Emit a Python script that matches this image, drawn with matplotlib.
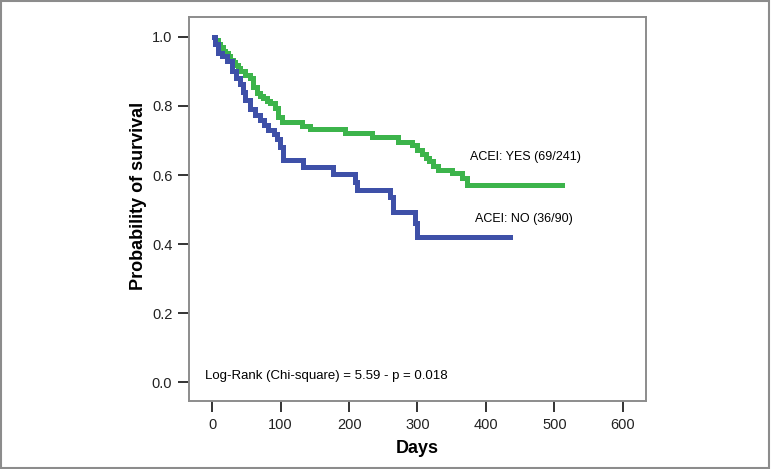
import numpy as np
import matplotlib.pyplot as plt
from matplotlib.patches import Rectangle

plt.rcParams['font.family'] = ['Liberation Sans', 'DejaVu Sans']

# --------------------------------------------------
# Kaplan-Meier steps
# --------------------------------------------------
days_yes = [3, 4, 8, 12, 16, 19, 23, 26, 30, 34, 38, 41, 48, 55, 60, 66, 70, 74,
            80, 85, 92, 96, 102, 131, 143, 194, 233, 272, 292, 299, 306, 312,
            317, 323, 330, 350, 365, 372, 511]
surv_yes = [1.0, 0.99, 0.98, 0.97, 0.96, 0.953, 0.945, 0.933, 0.928, 0.92, 0.91,
            0.9, 0.89, 0.88, 0.855, 0.838, 0.83, 0.823, 0.815, 0.81, 0.794,
            0.768, 0.754, 0.742, 0.733, 0.722, 0.71, 0.697, 0.687, 0.672, 0.66,
            0.65, 0.64, 0.627, 0.614, 0.605, 0.59, 0.571, 0.571]

days_no = [3, 4, 9, 15, 22, 29, 35, 41, 45, 48, 55, 62, 70, 76, 82, 90, 95, 99,
           104, 133, 177, 209, 212, 260, 264, 296, 300, 435]
surv_no = [1.0, 0.98, 0.953, 0.945, 0.93, 0.9, 0.88, 0.865, 0.84, 0.817, 0.79,
           0.775, 0.76, 0.745, 0.73, 0.72, 0.705, 0.68, 0.643, 0.623, 0.602,
           0.58, 0.556, 0.537, 0.493, 0.46, 0.42, 0.42]

label_yes = "ACEI: YES (69/241)"
label_no = "ACEI: NO (36/90)"
stats_text = "Log-Rank (Chi-square) = 5.59 - p = 0.018"

x_ticks = [0, 100, 200, 300, 400, 500, 600]
y_ticks = [0.0, 0.2, 0.4, 0.6, 0.8, 1.0]

# --------------------------------------------------
# Plot
# --------------------------------------------------
fig = plt.figure(figsize=(7.71, 4.69), dpi=100)
ax = fig.add_axes([0.2451, 0.145, 0.5928, 0.8188])

ax.plot(days_yes, surv_yes, drawstyle="steps-post", color="#3cb44b", lw=3.6,
        solid_joinstyle="miter")
ax.plot(days_no, surv_no, drawstyle="steps-post", color="#3e50a8", lw=3.6,
        solid_joinstyle="miter")

ax.text(377, 0.652, label_yes, fontsize=9, va="center", ha="left")
ax.text(384, 0.472, label_no, fontsize=9, va="center", ha="left")
ax.text(-10, 0.017, stats_text, fontsize=9.5, va="center", ha="left")

ax.set_xlim(-34, 634)
ax.set_ylim(-0.055, 1.058)
ax.set_xticks(x_ticks)
ax.set_yticks(y_ticks)
ax.set_yticklabels([f"{v:.1f}" for v in y_ticks])

for s in ax.spines.values():
    s.set_color("#8c8c8c")
    s.set_linewidth(1.4)
ax.tick_params(direction="out", length=8, width=1.4, color="#333333",
               labelsize=10.5, labelcolor="#222222", pad=4)

ax.set_xlabel("Days", fontsize=13, fontweight="bold", labelpad=6)
ax.set_ylabel("Probability of survival", fontsize=13, fontweight="bold")
ax.yaxis.set_label_coords(-0.092, 0.535)

# outer grey frame
fig.patches.append(Rectangle((0.001, 0.002), 0.997, 0.996, transform=fig.transFigure,
                             fill=False, edgecolor="#8c8c8c", lw=1.5))

fig.savefig("out.png", dpi=100)
